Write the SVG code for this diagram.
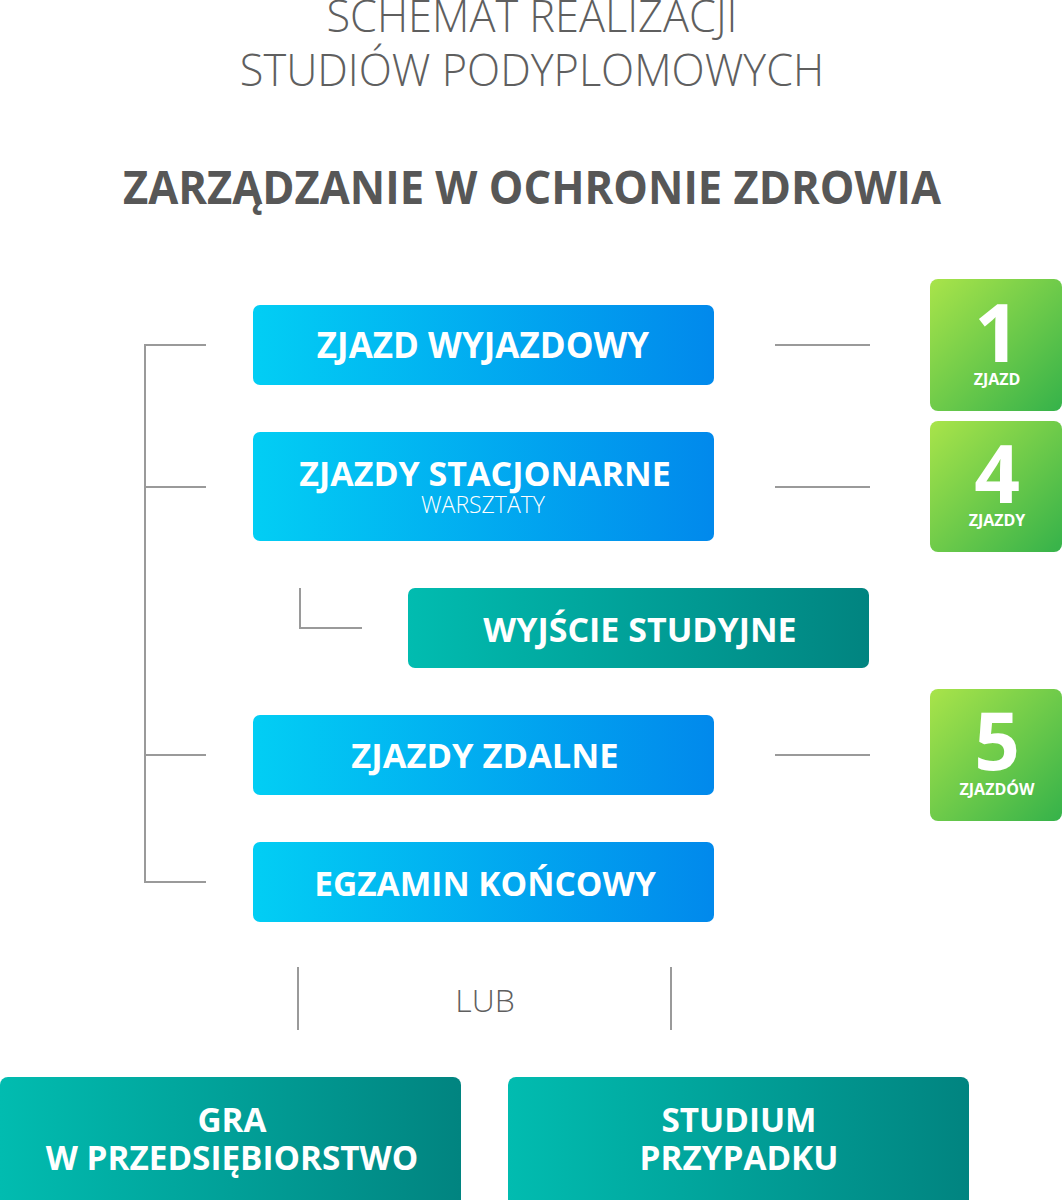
<svg xmlns="http://www.w3.org/2000/svg" width="1062" height="1200" viewBox="0 0 1062 1200">
<defs>
<linearGradient id="gBlue" x1="0" y1="0" x2="1" y2="0">
<stop offset="0" stop-color="#02CEF4"/>
<stop offset="1" stop-color="#0189EC"/>
</linearGradient>
<linearGradient id="gTeal" x1="0" y1="0" x2="1" y2="0">
<stop offset="0" stop-color="#01BCB0"/>
<stop offset="1" stop-color="#018480"/>
</linearGradient>
<linearGradient id="gGreen" x1="0" y1="0" x2="1" y2="1">
<stop offset="0" stop-color="#A9E44A"/>
<stop offset="1" stop-color="#35B24A"/>
</linearGradient>
<style>
.t{font-family:"Open Sans","Liberation Sans",sans-serif;text-anchor:middle}
.light{font-weight:300;fill:#5f5f5f}
.bold{font-weight:700}
.w{fill:#ffffff;font-weight:700}
.wl{fill:#ffffff;font-weight:300}
.ln{stroke:#9a9a9a;stroke-width:2;fill:none}
</style>
</defs>
<rect width="1062" height="1200" fill="#ffffff"/>
<g id="title">
<text class="t light" x="532" y="32" font-size="43.3">SCHEMAT REALIZACJI</text>
<text class="t light" x="532" y="86" font-size="43.3">STUDIÓW PODYPLOMOWYCH</text>
<text class="t bold" x="532" y="204" font-size="47" fill="#575757" textLength="818" lengthAdjust="spacingAndGlyphs">ZARZĄDZANIE W OCHRONIE ZDROWIA</text>
</g>
<g id="connectors">
<path class="ln" d="M206 345H145V882H206M145 487H206M145 755H206"/>
<path class="ln" d="M775 345H870M775 487H870M775 755H870"/>
<path class="ln" d="M300 588V628H362"/>
<path class="ln" d="M298 967V1030M671 967V1030"/>
</g>
<g id="lub"><text class="t light" x="485" y="1012" font-size="32">LUB</text></g>
<g id="n1">
<rect x="253" y="305" width="461" height="80" rx="7" fill="url(#gBlue)"/>
<text class="t w" x="483" y="358" font-size="35">ZJAZD WYJAZDOWY</text>
</g>
<g id="n2">
<rect x="253" y="432" width="461" height="109" rx="7" fill="url(#gBlue)"/>
<text class="t w" x="485" y="486" font-size="34">ZJAZDY STACJONARNE</text>
<text class="t wl" x="483" y="513" font-size="23">WARSZTATY</text>
</g>
<g id="n3">
<rect x="408" y="588" width="461" height="80" rx="7" fill="url(#gTeal)"/>
<text class="t w" x="640" y="642" font-size="34">WYJŚCIE STUDYJNE</text>
</g>
<g id="n4">
<rect x="253" y="715" width="461" height="80" rx="7" fill="url(#gBlue)"/>
<text class="t w" x="485" y="768" font-size="34.5">ZJAZDY ZDALNE</text>
</g>
<g id="n5">
<rect x="253" y="842" width="461" height="80" rx="7" fill="url(#gBlue)"/>
<text class="t w" x="485" y="896" font-size="33.5">EGZAMIN KOŃCOWY</text>
</g>
<g id="g1">
<rect x="930" y="279" width="132" height="132" rx="8" fill="url(#gGreen)"/>
<text class="t w" x="997" y="362" font-size="80">1</text>
<text class="t w" x="997" y="385" font-size="16">ZJAZD</text>
</g>
<g id="g4">
<rect x="930" y="421" width="132" height="131" rx="8" fill="url(#gGreen)"/>
<text class="t w" x="997" y="503" font-size="80">4</text>
<text class="t w" x="997" y="526" font-size="16">ZJAZDY</text>
</g>
<g id="g5">
<rect x="930" y="689" width="132" height="132" rx="8" fill="url(#gGreen)"/>
<text class="t w" x="997" y="770" font-size="80">5</text>
<text class="t w" x="997" y="795" font-size="16">ZJAZDÓW</text>
</g>
<g id="b1">
<rect x="0" y="1077" width="461" height="140" rx="8" fill="url(#gTeal)"/>
<text class="t w" x="232" y="1132" font-size="33.3">GRA</text>
<text class="t w" x="232" y="1170" font-size="33.3">W PRZEDSIĘBIORSTWO</text>
</g>
<g id="b2">
<rect x="508" y="1077" width="461" height="140" rx="8" fill="url(#gTeal)"/>
<text class="t w" x="739" y="1132" font-size="33.3">STUDIUM</text>
<text class="t w" x="739" y="1170" font-size="33.3">PRZYPADKU</text>
</g>
</svg>
